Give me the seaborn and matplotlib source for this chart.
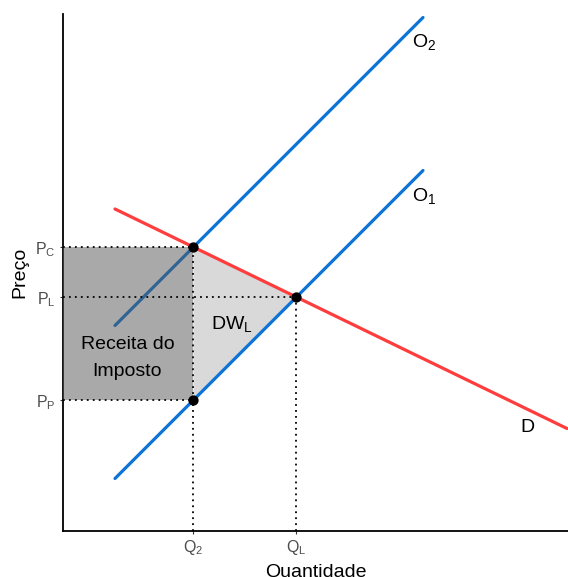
import numpy as np
import matplotlib
matplotlib.use("Agg")
import matplotlib.pyplot as plt
from matplotlib.patches import Polygon, Rectangle
import seaborn as sns

# Supply curves (before and after the tax) and the demand curve
supply_q = [1.04, 7.2]
o1_p = [1.04, 7.2]
o2_p = [4.10, 10.26]
demand_q = [1.04, 10.08]
demand_p = [6.43, 2.04]

curve_labels = ["O$_2$", "O$_1$", "D"]
y_tick_labels = [r"P$_\mathrm{C}$", r"P$_\mathrm{L}$", r"P$_\mathrm{P}$"]
x_tick_labels = ["Q$_2$", r"Q$_\mathrm{L}$"]

BLUE = "#0b74d6"
RED = "#ff3d3d"


def line_coef(q, p):
    slope = (p[1] - p[0]) / (q[1] - q[0])
    return slope, p[0] - slope * q[0]


def intersect(q1, p1, q2, p2):
    m1, b1 = line_coef(q1, p1)
    m2, b2 = line_coef(q2, p2)
    q = (b2 - b1) / (m1 - m2)
    return q, m1 * q + b1


# Market equilibrium without tax and with tax
q_l, p_l = intersect(supply_q, o1_p, demand_q, demand_p)
q_2, p_c = intersect(supply_q, o2_p, demand_q, demand_p)
m1, b1 = line_coef(supply_q, o1_p)
p_p = m1 * q_2 + b1

sns.set_style("ticks")
plt.rcParams["font.family"] = ["Liberation Sans", "DejaVu Sans"]
plt.rcParams["mathtext.fontset"] = "custom"
plt.rcParams["mathtext.rm"] = "Liberation Sans"
plt.rcParams["mathtext.it"] = "Liberation Sans:italic"
plt.rcParams["text.color"] = "black"
plt.rcParams["axes.labelcolor"] = "black"

fig = plt.figure(figsize=(5.68, 5.77), dpi=100)
ax = fig.add_axes([63 / 568, (577 - 530.5) / 577, (568 - 63) / 568, (530.5 - 14) / 577])
ax.set_xlim(0, 10.1)
ax.set_ylim(0, 10.33)

# Deadweight loss triangle
ax.add_patch(Polygon([(q_2, p_c), (q_l, p_l), (q_2, p_p)], closed=True,
                     facecolor="#d9d9d9", edgecolor="none", zorder=1))

# Curves
sns.lineplot(x=supply_q, y=o2_p, ax=ax, color=BLUE, lw=2.3, zorder=3)
sns.lineplot(x=supply_q, y=o1_p, ax=ax, color=BLUE, lw=2.3, zorder=3)
sns.lineplot(x=demand_q, y=demand_p, ax=ax, color=RED, lw=2.3, zorder=3)

# Tax revenue rectangle
ax.add_patch(Rectangle((0, p_p), q_2, p_c - p_p, facecolor="#555555",
                       alpha=0.5, edgecolor="none", zorder=4))

# Guide lines from the axes to the equilibrium points
dot = dict(color="black", lw=1.3, linestyle=(0, (1, 2.3)), zorder=5)
ax.plot([0, q_2], [p_c, p_c], **dot)
ax.plot([0, q_l], [p_l, p_l], **dot)
ax.plot([0, q_2], [p_p, p_p], **dot)
ax.plot([q_2, q_2], [0, p_c], **dot)
ax.plot([q_l, q_l], [0, p_l], **dot)

sns.scatterplot(x=[q_2, q_l, q_2], y=[p_c, p_l, p_p], ax=ax, color="black",
                s=55, edgecolor="black", linewidth=0, zorder=6)

# Annotations
fs = 14
ax.text(6.99, 9.77, curve_labels[0], fontsize=fs, ha="left", va="center", zorder=7)
ax.text(6.99, 6.69, curve_labels[1], fontsize=fs, ha="left", va="center", zorder=7)
ax.text(9.28, 2.05, curve_labels[2], fontsize=fs, ha="center", va="center", zorder=7)
ax.text(3.38, 4.12, r"DW$_\mathrm{L}$", fontsize=fs, ha="center", va="center", zorder=7)
ax.text(1.29, 3.45, "Receita do\nImposto", fontsize=fs, ha="center", va="center",
        linespacing=1.7, zorder=7)

ax.set_xticks([q_2, q_l])
ax.set_xticklabels(x_tick_labels)
ax.set_yticks([p_c, p_l, p_p])
ax.set_yticklabels(y_tick_labels)
ax.tick_params(axis="both", direction="out", length=2.5, width=0.8,
               color="#333333", labelcolor="#4d4d4d", labelsize=11.5, pad=3)

ax.set_xlabel("Quantidade", fontsize=fs, labelpad=5)
ax.set_ylabel("Preço", fontsize=fs, labelpad=5)

sns.despine(ax=ax)
for side in ("left", "bottom"):
    ax.spines[side].set_linewidth(1.3)
    ax.spines[side].set_color("black")

fig.savefig("out.png", dpi=100)
